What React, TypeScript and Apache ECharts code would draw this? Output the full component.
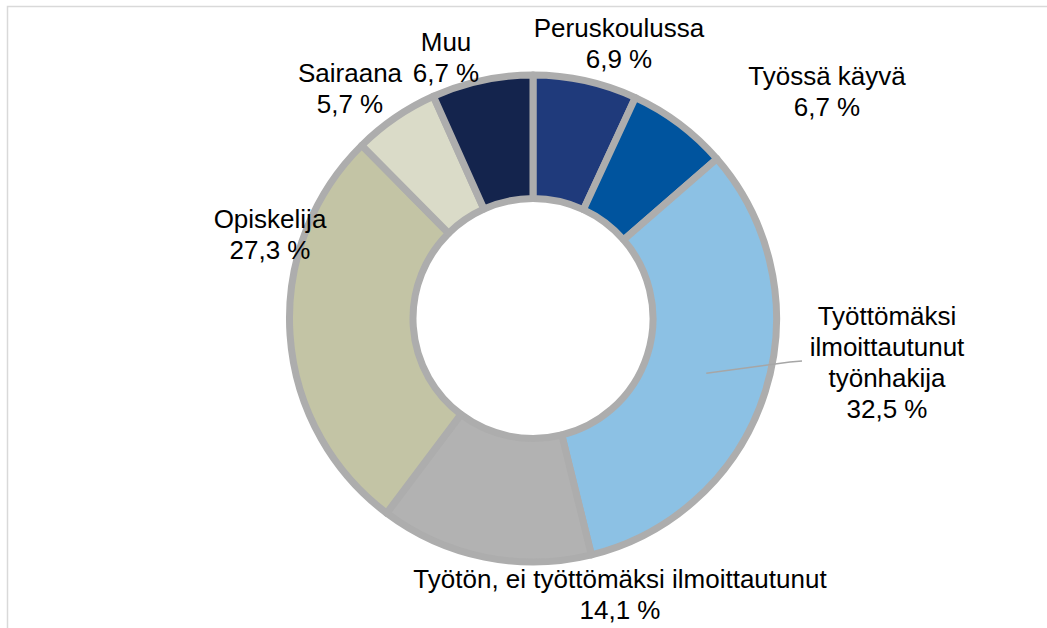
import React, { useEffect, useRef } from "react";
import * as echarts from "echarts";

const categories = [
  "Peruskoulussa",
  "Työssä käyvä",
  "Työttömäksi\nilmoittautunut\ntyönhakija",
  "Työtön, ei työttömäksi ilmoittautunut",
  "Opiskelija",
  "Sairaana",
  "Muu",
];
const values = [6.9, 6.7, 32.5, 14.1, 27.3, 5.7, 6.7];
const colors = ["#1F3A7B", "#00549E", "#8CC1E4", "#B2B2B2", "#C3C4A5", "#DADBC8", "#14244D"];

// label block centres (text layout only)
const labelPos: [number, number][] = [
  [619, 43],
  [827, 91],
  [887, 362],
  [620, 594],
  [270, 234],
  [350, 88],
  [446, 57],
];

const CX = 533;
const CY = 318.5;
const R_IN = 120;
const R_OUT = 243.5;
const LEADER_INDEX = 2;

export default function App() {
  const ref = useRef<HTMLDivElement>(null);
  useEffect(() => {
    if (!ref.current) return;
    const chart = echarts.init(ref.current, undefined, { renderer: "svg" });
    const total = values.reduce((a, b) => a + b, 0);
    const midAngle = (i: number) => {
      let s = 0;
      for (let k = 0; k < i; k++) s += values[k];
      return ((s + values[i] / 2) / total) * Math.PI * 2;
    };
    const a = midAngle(LEADER_INDEX);
    const rMid = (R_IN + R_OUT) / 2;
    const start: [number, number] = [CX + Math.sin(a) * rMid, CY - Math.cos(a) * rMid];
    chart.setOption({
      animation: false,
      backgroundColor: "#ffffff",
      graphic: [
        {
          type: "polyline",
          shape: { points: [[7.5, 640], [7.5, 6.5], [1060, 6.5]] },
          style: { stroke: "#D9D9D9", lineWidth: 1.5, fill: "none" },
          silent: true,
        },
        {
          type: "polyline",
          z: 100,
          shape: { points: [start, [790, 362], [802, 361]] },
          style: { stroke: "#A6A6A6", lineWidth: 1.5, fill: "none" },
          silent: true,
        },
      ],
      series: [
        {
          type: "pie",
          center: [CX, CY],
          radius: [R_IN, R_OUT],
          startAngle: 90,
          clockwise: true,
          avoidLabelOverlap: false,
          silent: true,
          itemStyle: { borderColor: "#ADADAD", borderWidth: 7 },
          label: {
            show: true,
            position: "outside",
            color: "#000000",
            fontFamily: "'Liberation Sans', Arial, sans-serif",
            fontSize: 26,
            lineHeight: 31,
            align: "center",
            formatter: (p: any) => `${p.name}\n${values[p.dataIndex].toFixed(1).replace(".", ",")} %`,
          },
          labelLine: { show: false },
          labelLayout: (p: any) => {
            const [x, y] = labelPos[p.dataIndex];
            return { x, y, align: "center", verticalAlign: "middle" };
          },
          data: categories.map((name, i) => ({
            name,
            value: values[i],
            itemStyle: { color: colors[i] },
          })),
        },
      ],
    });
    return () => chart.dispose();
  }, []);
  return (
    <div
      ref={ref}
      style={{ position: "absolute", left: 0, top: 0, width: 1047, height: 628, background: "#fff" }}
    />
  );
}
